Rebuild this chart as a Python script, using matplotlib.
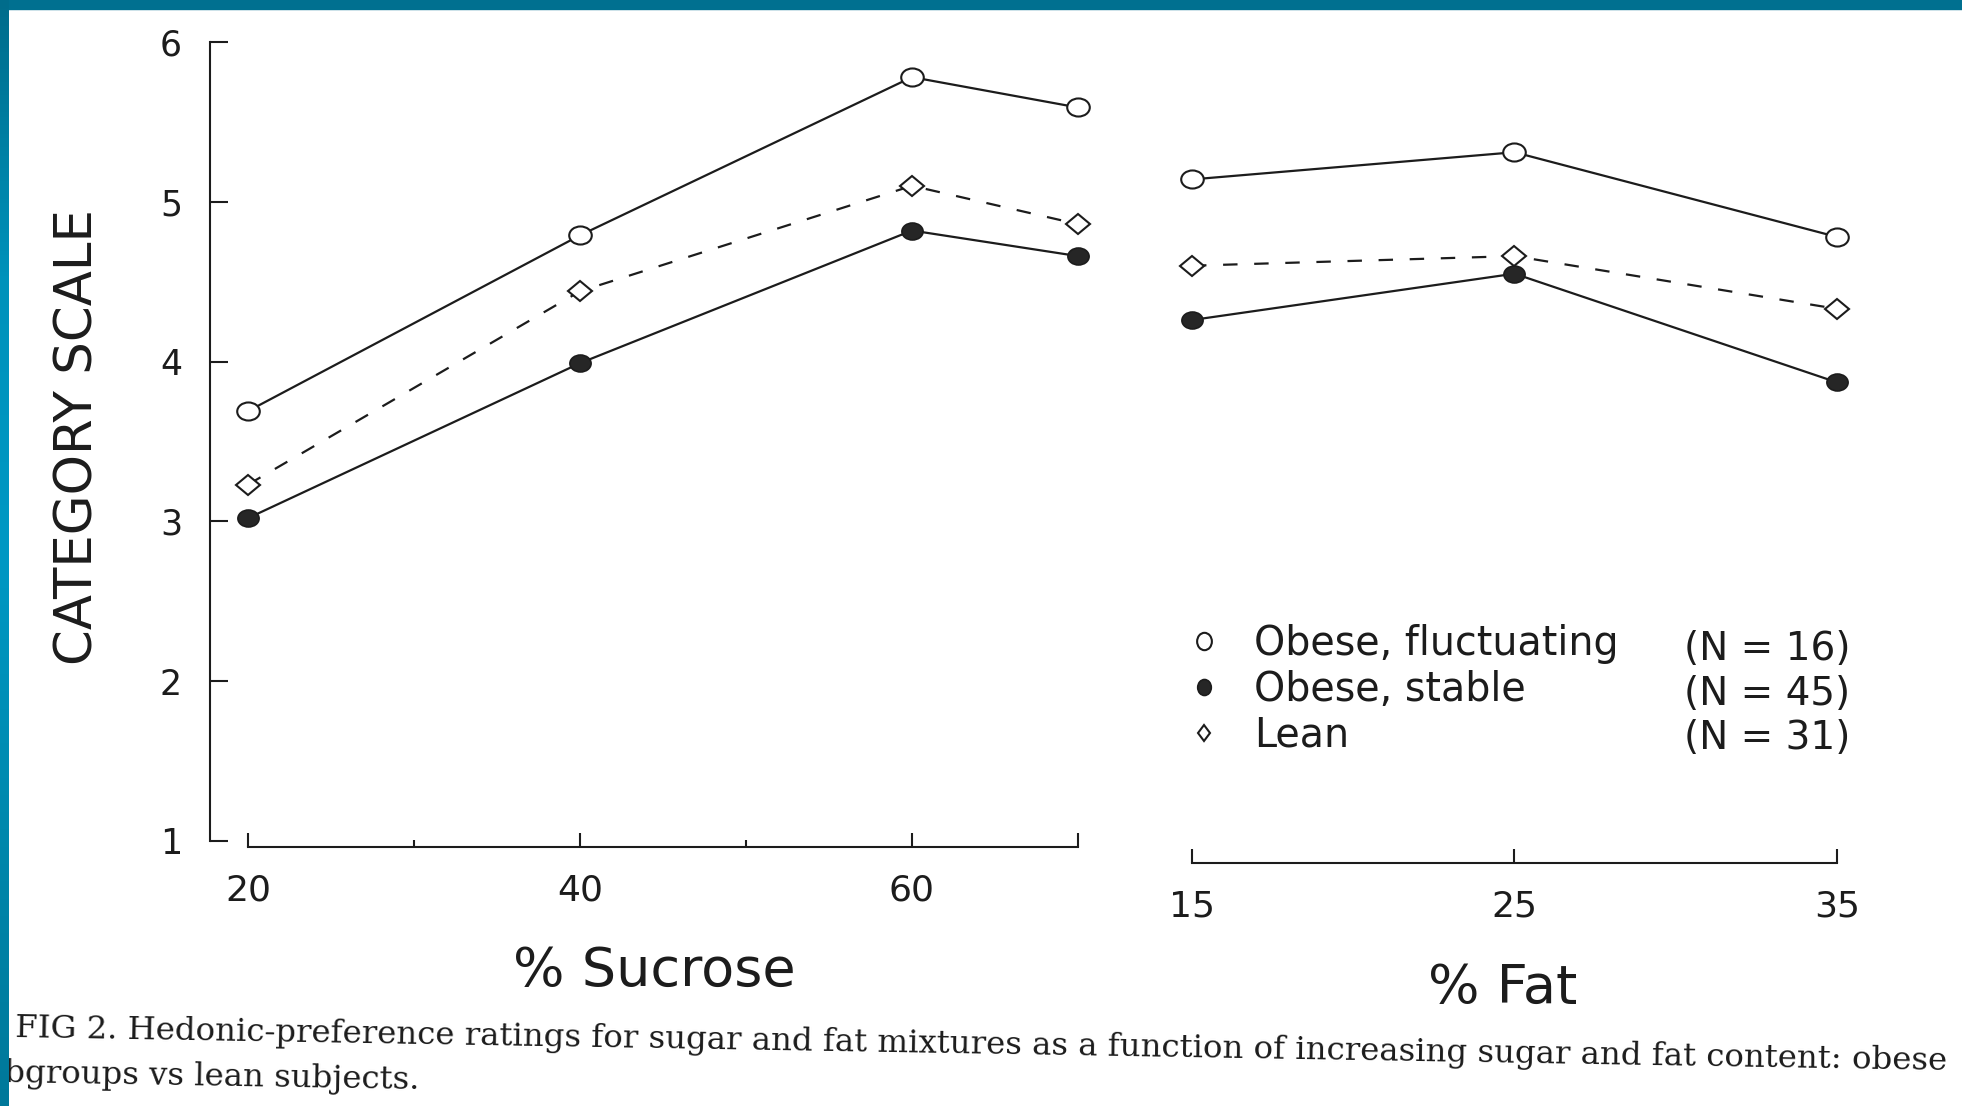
import numpy as np
import matplotlib
matplotlib.use('Agg')
import matplotlib.pyplot as plt
from matplotlib.lines import Line2D
from matplotlib.markers import MarkerStyle
from matplotlib.patches import Rectangle
from matplotlib.transforms import Affine2D
from matplotlib.colors import LinearSegmentedColormap

plt.rcParams['font.family'] = 'DejaVu Sans'

# ratings
sucrose = [20, 40, 60, 70]
sucrose_fluct = [3.69, 4.79, 5.78, 5.59]
sucrose_stable = [3.02, 3.99, 4.82, 4.66]
sucrose_lean = [3.23, 4.44, 5.10, 4.86]

fat = [15, 25, 35]
fat_fluct = [5.14, 5.31, 4.78]
fat_stable = [4.26, 4.55, 3.87]
fat_lean = [4.60, 4.66, 4.33]

groups = ['Obese, fluctuating', 'Obese, stable', 'Lean']
group_n = [16, 45, 31]

yticks = [1, 2, 3, 4, 5, 6]
sucrose_ticks = [20, 40, 60, 70]
sucrose_ticklabels = ['20', '40', '60', '']
sucrose_minor = [30, 50]
fat_ticks = [15, 25, 35]

caption = ('FIG 2. Hedonic-preference ratings for sugar and fat mixtures as a '
           'function of increasing sugar and fat content: obese')
caption2 = 'bgroups vs lean subjects.'

W, H = 1962, 1106
ink = '#1c1c1c'

fig = plt.figure(figsize=(W / 100, H / 100), dpi=100)


def stretched(marker, sx):
    # the scan is stretched sideways, so the markers are a bit wide
    return MarkerStyle(marker, transform=Affine2D().scale(sx, 1.0))


styles = {
    'fluct': dict(marker=stretched('o', 1.25), ms=13, mfc='white', mec=ink,
                  mew=1.5, color=ink, lw=1.6, ls='-'),
    'lean': dict(marker=stretched('D', 1.25), ms=9.7, mfc='white', mec=ink,
                 mew=1.5, color=ink, lw=1.6, ls=(0, (6.5, 7.5))),
    'stable': dict(marker=stretched('o', 1.25), ms=12.2, mfc='#262626',
                   mec=ink, mew=1.2, color=ink, lw=1.6, ls='-'),
}

y0, y1 = 0.7, 6.1
ax1 = fig.add_axes([209.8 / W, 1 - 888.9 / H, 901.4 / W, 862.9 / H])
ax2 = fig.add_axes([1159.75 / W, 1 - 888.9 / H, 725.6 / W, 862.9 / H])

ax1.plot(sucrose, sucrose_fluct, **styles['fluct'])
ax1.plot(sucrose, sucrose_lean, **styles['lean'])
ax1.plot(sucrose, sucrose_stable, **styles['stable'])

ax2.plot(fat, fat_fluct, **styles['fluct'])
ax2.plot(fat, fat_lean, **styles['lean'])
ax2.plot(fat, fat_stable, **styles['stable'])

for ax in (ax1, ax2):
    ax.set_ylim(y0, y1)
    ax.patch.set_alpha(0)
    ax.spines[['top', 'right']].set_visible(False)
    for s in ax.spines.values():
        s.set_linewidth(1.5)
        s.set_color(ink)
    ax.tick_params(axis='x', which='major', direction='in', length=10,
                   width=1.5, pad=19, labelsize=26, colors=ink)

# left panel: y axis and sucrose axis
ax1.spines['left'].set_bounds(1, 6)
ax1.spines['bottom'].set_position(('data', 0.96))
ax1.spines['bottom'].set_bounds(20, 70)
ax1.set_yticks(yticks)
ax1.tick_params(axis='y', direction='in', length=13, width=1.5, pad=20,
                labelsize=25, colors=ink)
ax1.set_xticks(sucrose_ticks, sucrose_ticklabels)
ax1.set_xticks(sucrose_minor, minor=True)
ax1.tick_params(axis='x', which='minor', direction='in', length=5, width=1.5,
                colors=ink)
ax1.set_xlim(17.7, 72)

# right panel: fat axis
ax2.spines['left'].set_visible(False)
ax2.tick_params(axis='y', left=False, labelleft=False)
ax2.spines['bottom'].set_position(('data', 0.86))
ax2.spines['bottom'].set_bounds(15, 35)
ax2.set_xticks(fat_ticks)
ax2.set_xlim(14, 36.5)

ax1.set_ylabel('CATEGORY SCALE', fontsize=37, color=ink, va='center', ha='center')
ax1.yaxis.set_label_coords(-0.1462, 0.5237)
ax1.set_xlabel('% Sucrose', fontsize=39, color=ink, va='center')
ax1.xaxis.set_label_coords(0.4928, -0.0951)
ax2.set_xlabel('% Fat', fontsize=39, color=ink, va='center')
ax2.xaxis.set_label_coords(0.4724, -0.1143)

# legend: markers + group names, then the N column
handles = [
    Line2D([], [], ls='none', marker=stretched('o', 0.85), ms=12.5,
           mfc='white', mec=ink, mew=1.5),
    Line2D([], [], ls='none', marker=stretched('o', 0.85), ms=11.5,
           mfc='#262626', mec=ink, mew=1.2),
    Line2D([], [], ls='none', marker=stretched('D', 0.8), ms=8,
           mfc='white', mec=ink, mew=1.5),
]
fig.legend(handles, groups, loc='upper left',
           bbox_to_anchor=(1184 / W, 1 - 624 / H), frameon=False,
           fontsize=28.5, labelcolor=ink, handlelength=1.0, handletextpad=0.76,
           labelspacing=0.15, borderpad=0, borderaxespad=0)
n_handles = [Line2D([], [], ls='none') for _ in group_n]
fig.legend(n_handles, [f'(N = {n})' for n in group_n], loc='upper left',
           bbox_to_anchor=(1684 / W, 1 - 630 / H), frameon=False,
           fontsize=28, labelcolor=ink, handlelength=0, handletextpad=0,
           labelspacing=0.17, borderpad=0, borderaxespad=0)

# caption (the scan is slightly tilted)
fig.text(15 / W, 1 - 1037 / H, caption, fontsize=23.3, family='DejaVu Serif',
         color=ink, rotation=-0.98, rotation_mode='anchor', ha='left',
         va='baseline')
fig.text(4 / W, 1 - 1082 / H, caption2, fontsize=23.3, family='DejaVu Serif',
         color=ink, rotation=-0.98, rotation_mode='anchor', ha='left',
         va='baseline')

# slide frame: teal bar on top, gradient bar on the left
fig.add_artist(Rectangle((0, 1 - 9 / H), 1, 9 / H, transform=fig.transFigure,
                         color='#007090', zorder=10))
bar = fig.add_axes([0, 0, 9 / W, 1], zorder=10)
frame_cmap = LinearSegmentedColormap.from_list(
    'frame', ['#006c8b', '#0092bb', '#0098c4', '#0088ad', '#00789a'])
bar.imshow(np.linspace(0, 1, 256)[:, None], aspect='auto', cmap=frame_cmap)
bar.axis('off')

fig.savefig('out.png', dpi=100, facecolor='white')
